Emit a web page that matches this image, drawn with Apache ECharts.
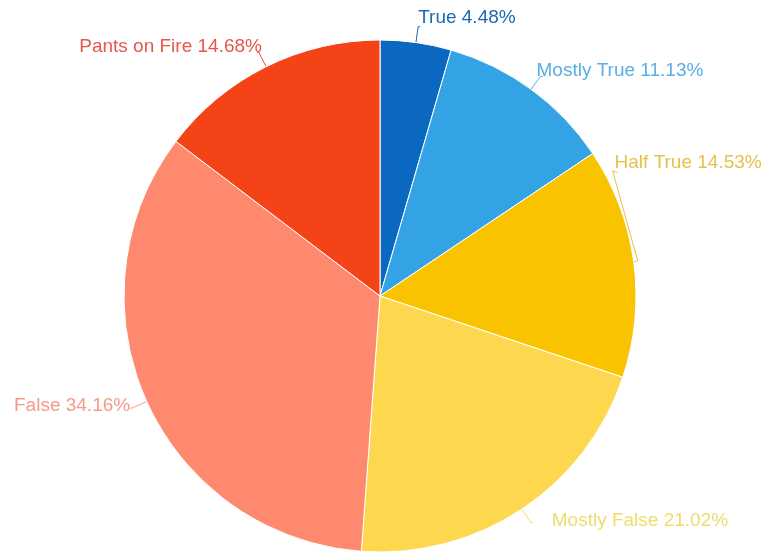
<!DOCTYPE html>
<html><head><meta charset="utf-8">
<script src="https://cdn.jsdelivr.net/npm/echarts@6/dist/echarts.min.js"></script>
<style>html,body{margin:0;padding:0;background:#fff}#c{width:764px;height:553px}</style>
</head><body><div id="c"></div>
<script>
const categories = ['True','Mostly True','Half True','Mostly False','False','Pants on Fire'];
const values = [4.48, 11.13, 14.53, 21.02, 34.16, 14.68];
const sliceColors = ['#0a68c0','#33a3e6','#f9c300','#fdd84f','#ff896e','#f54318'];
const labelColors = ['#1a6bb3','#5aaee6','#e6c24a','#efdb6e','#f59a88','#e6574a'];

const chart = echarts.init(document.getElementById('c'));
chart.setOption({
  animation: false,
  series: [{
    type: 'pie',
    center: [380, 296],
    radius: 256,
    startAngle: 90,
    clockwise: true,
    avoidLabelOverlap: false,
    itemStyle: { borderColor: '#fff', borderWidth: 1 },
    label: {
      show: true,
      fontFamily: 'Liberation Sans, Arial, sans-serif',
      fontSize: 19,
      overflow: 'none',
      formatter: p => p.name + ' ' + p.value.toFixed(2) + '%'
    },
    labelLine: { show: true, length: 16, length2: 2, lineStyle: { width: 1 } },
    labelLayout: function (p) {
      const shifts = {
        0: [-7, -9], 1: [-11, -6], 2: [-42, -97], 3: [14, -2], 4: [5, -2], 5: [10, -6]
      };
      const s = shifts[p.dataIndex] || [0, 0];
      const out = { dx: s[0], dy: s[1] };
      if (p.dataIndex === 2 && p.labelLinePoints) {
        const start = p.labelLinePoints[0];
        const left = p.labelRect.x + s[0];
        const cy = p.labelRect.y + p.labelRect.height / 2 + s[1];
        out.labelLinePoints = [
          [start[0], start[1]],
          [start[0] + 4, start[1] - 1],
          [left - 2, cy + 8],
          [left + 3, cy + 10]
        ];
      }
      return out;
    },
    data: categories.map((n, i) => ({
      name: n, value: values[i],
      itemStyle: { color: sliceColors[i] },
      label: { color: labelColors[i] },
      labelLine: { lineStyle: { color: labelColors[i] } }
    }))
  }]
});
</script></body></html>
